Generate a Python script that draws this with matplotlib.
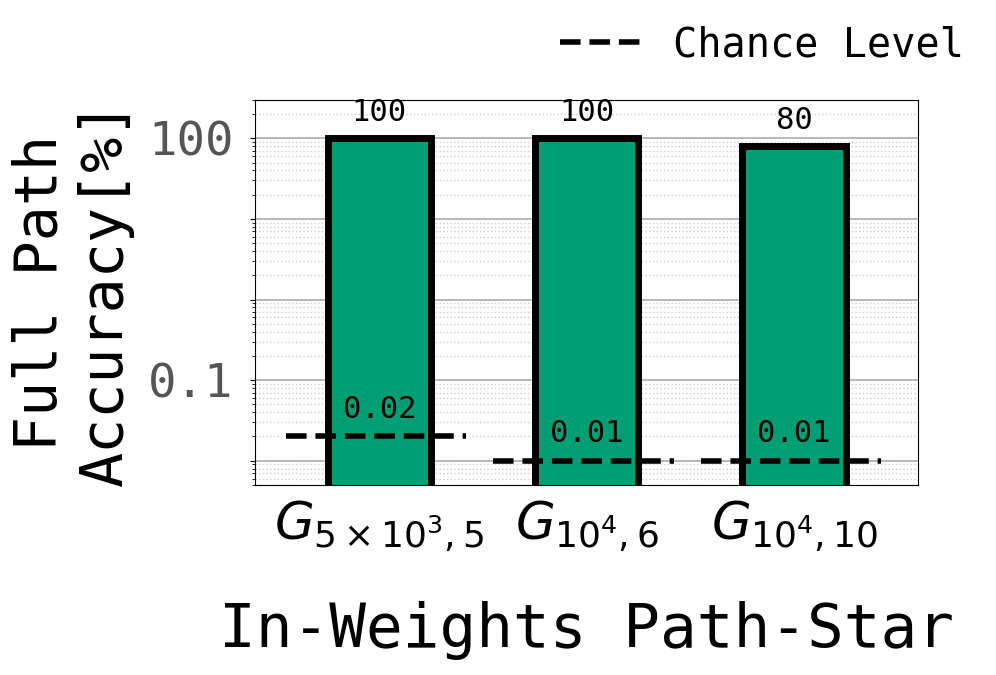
import matplotlib
matplotlib.use("Agg")
import matplotlib.pyplot as plt
from matplotlib.ticker import FixedLocator, NullFormatter, LogLocator

# donnees
tasks = [r"$G_{5\times10^3,5}$", r"$G_{10^4,6}$", r"$G_{10^4,10}$"]
accuracy = [100, 100, 80]          # precision chemin complet (%)
chance = [0.02, 0.01, 0.01]        # niveau de hasard (%)
chance_labels = ["0.02", "0.01", "0.01"]
acc_labels = ["100", "100", "80"]

plt.rcParams["font.family"] = ["DejaVu Sans Mono"]

fig = plt.figure(figsize=(9.96, 6.75), dpi=100)
ax = fig.add_axes([0.256, 0.2815, 0.666, 0.5705])

x = list(range(len(tasks)))
ax.bar(x, accuracy, width=0.5, color="#009E73", edgecolor="black",
       linewidth=5, zorder=3)

for i in x:
    ax.hlines(chance[i], i - 0.45, i + 0.42, colors="black",
              linestyles="--", linewidth=4, zorder=4,
              label="Chance Level" if i == 0 else None)
    ax.annotate(acc_labels[i], (i, accuracy[i]), xytext=(0, 8),
                textcoords="offset points", ha="center", va="bottom",
                fontsize=22, zorder=5)
    ax.annotate(chance_labels[i], (i, chance[i]), xytext=(0, 9),
                textcoords="offset points", ha="center", va="bottom",
                fontsize=22, zorder=5)

ax.set_yscale("log")
ax.set_ylim(0.005, 300)
ax.set_xlim(-0.6, 2.6)

decades = [0.01, 0.1, 1, 10, 100]
ax.yaxis.set_major_locator(FixedLocator(decades))
ax.set_yticklabels(["", "0.1", "", "", "100"])
ax.yaxis.set_minor_locator(LogLocator(base=10, subs=range(2, 10), numticks=20))
ax.yaxis.set_minor_formatter(NullFormatter())
ax.tick_params(axis="y", which="major", labelsize=34, labelcolor="#555555", pad=12)
ax.tick_params(axis="x", length=0, labelsize=37, pad=10)

ax.set_xticks(x)
ax.set_xticklabels(tasks)

ax.grid(True, which="major", axis="y", color="#aaaaaa", linestyle="-", linewidth=1.2, zorder=0)
ax.grid(True, which="minor", axis="y", color="#cccccc", linestyle=":", linewidth=1, zorder=0)
ax.set_axisbelow(True)

ax.set_ylabel("Full Path\nAccuracy[%]", fontsize=42, labelpad=10)
ax.set_xlabel("In-Weights Path-Star", fontsize=44, labelpad=34)

fig.legend(loc="center right", bbox_to_anchor=(1.004, 0.933), frameon=False,
           fontsize=29, handlelength=2.0)

fig.savefig("out.png", dpi=100)
